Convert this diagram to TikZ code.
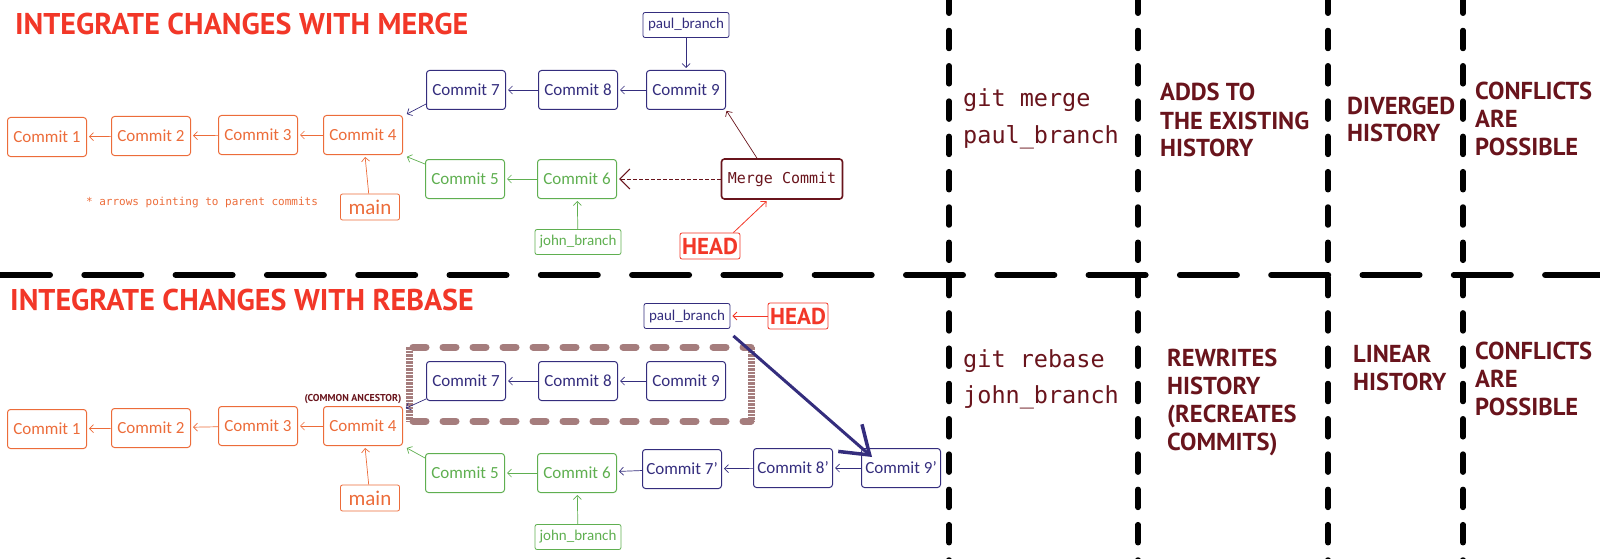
\documentclass[tikz,border=0pt]{standalone}
\usepackage{fontspec}
\setmainfont{Carlito}
\setmonofont{DejaVu Sans Mono}
\newfontfamily\headfont{PT Sans}
\usetikzlibrary{arrows.meta}

\definecolor{corange}{RGB}{236,108,58}
\definecolor{cpurple}{RGB}{52,45,125}
\definecolor{cgreen}{RGB}{95,175,80}
\definecolor{cmaroon}{RGB}{105,20,28}
\definecolor{cred}{RGB}{242,55,40}
\definecolor{cbox}{RGB}{165,125,125}

\tikzset{
  >={Straight Barb[length=4pt,width=8pt]},
  commit/.style={draw, rounded corners=3pt, line width=1pt, minimum width=79pt, minimum height=39pt, inner sep=1pt, font=\fontsize{17}{20}\selectfont},
  ocommit/.style={commit, draw=corange, text=corange},
  pcommit/.style={commit, draw=cpurple, text=cpurple},
  gcommit/.style={commit, draw=cgreen, text=cgreen},
  branch/.style={draw, rounded corners=2pt, line width=0.8pt, minimum width=86pt, minimum height=25pt, inner sep=1pt, font=\fontsize{15}{16}\selectfont},
  pbranch/.style={branch, draw=cpurple, text=cpurple},
  gbranch/.style={branch, draw=cgreen, text=cgreen},
  mainbox/.style={branch, draw=corange, text=corange, minimum width=59pt, minimum height=26pt, font=\fontsize{21}{22}\selectfont},
  headbox/.style={branch, draw=cred, text=cred, minimum width=60pt, minimum height=26pt, font=\headfont\bfseries\fontsize{23}{24}\selectfont},
  mergebox/.style={commit, draw=cmaroon, text=cmaroon, line width=1.6pt, minimum width=121pt, minimum height=40pt, font=\ttfamily\fontsize{15}{16}\selectfont},
  title/.style={anchor=base west, inner sep=0pt, text=cred, font=\headfont\bfseries\fontsize{30}{30}\selectfont},
  colnote/.style={anchor=base west, inner sep=0pt, align=left, text=cmaroon, font=\headfont\bfseries\fontsize{24.5}{28}\selectfont},
  cmdnote/.style={anchor=base west, inner sep=0pt, align=left, text=cmaroon, font=\ttfamily\fontsize{23.5}{36}\selectfont},
  oarr/.style={->, corange, line width=0.7pt, shorten >=2pt},
  parr/.style={->, cpurple, line width=0.7pt, shorten >=2pt},
  garr/.style={->, cgreen, line width=0.7pt, shorten >=2pt},
  rarr/.style={->, cred, line width=0.8pt, shorten >=2pt},
  hsep/.style={line width=6pt, line cap=round, dash pattern=on 57pt off 34.3pt},
  vsep/.style={line width=5.5pt, line cap=round, dash pattern=on 18pt off 17.3pt},
  boxedge/.style={cbox, line width=7pt, line cap=round, dash pattern=on 13pt off 17pt},
  boxside/.style={cbox, line width=7pt, dash pattern=on 2.5pt off 1pt}
}

\begin{document}
\begin{tikzpicture}[x=1pt,y=-1pt]
\useasboundingbox (0,0) rectangle (1600,559);

\draw[hsep] (-7,275) -- (1610,275);
\foreach \xs in {949,1138,1328,1463}
  \draw[vsep] (\xs,-4.8) -- (\xs,565);

\node[title] (t1) at (15,35) {INTEGRATE CHANGES WITH MERGE};
\node[title] (t2) at (10,310) {INTEGRATE CHANGES WITH REBASE};

\node[ocommit] (c1) at (47,137) {Commit 1};
\node[ocommit] (c2) at (151,136) {Commit 2};
\node[ocommit] (c3) at (258,135) {Commit 3};
\node[ocommit] (c4) at (363,135) {Commit 4};
\node[mainbox] (main) at (370,207) {main};
\node[pcommit] (c7) at (466,90) {Commit 7};
\node[pcommit] (c8) at (578,90) {Commit 8};
\node[pcommit] (c9) at (686,90) {Commit 9};
\node[pbranch] (pb) at (686,25) {paul\_branch};
\node[gcommit] (c5) at (465,179) {Commit 5};
\node[gcommit] (c6) at (577,179) {Commit 6};
\node[gbranch] (jb) at (578,242) {john\_branch};
\node[mergebox] (mc) at (782,179) {Merge Commit};
\node[headbox] (hd) at (710,246) {HEAD};
\node[text=corange, font=\ttfamily\fontsize{11}{12}\selectfont] (hint) at (202,203) {* arrows pointing to parent commits};

\draw[oarr] (c2) -- (c1);
\draw[oarr] (c3) -- (c2);
\draw[oarr] (c4) -- (c3);
\draw[oarr] (main) -- (c4);
\draw[parr] ([yshift=6pt]c7.south west) -- ([xshift=2pt]c4.north east);
\draw[parr] (c8) -- (c7);
\draw[parr] (c9) -- (c8);
\draw[parr] (pb) -- (c9);
\draw[garr] ([yshift=-5pt]c5.north west) -- ([xshift=2pt,yshift=-1pt]c4.south east);
\draw[garr] (c6) -- (c5);
\draw[garr] (jb) -- (c6);
\draw[cmaroon, line width=0.8pt, dash pattern=on 4pt off 2pt, -{Straight Barb[length=10pt,width=20pt,line width=1.2pt]}, shorten >=2pt] (mc) -- (c6);
\draw[->, cmaroon, line width=0.7pt, shorten >=1pt] ([xshift=-25pt]mc.north) -- (c9.south east);
\draw[rarr] ([xshift=-7pt]hd.north east) -- ([xshift=-14pt]mc.south);

\node[cmdnote] (m1) at (963,143) {git merge\\paul\_branch};
\node[colnote] (m2) at (1160,157) {ADDS TO\\THE EXISTING\\HISTORY};
\node[colnote] (m3) at (1347,142) {DIVERGED\\HISTORY};
\node[colnote] (m4) at (1475,155) {CONFLICTS\\ARE\\POSSIBLE};

\draw[boxedge] (413,347) -- (751,347);
\draw[boxedge] (413,421) -- (751,421);
\draw[boxside] (409,347) -- (409,421);
\draw[boxside] (751,347) -- (751,421);

\node[ocommit] (rc1) at (47,429) {Commit 1};
\node[ocommit] (rc2) at (151,428) {Commit 2};
\node[ocommit] (rc3) at (258,426) {Commit 3};
\node[ocommit] (rc4) at (363,426) {Commit 4};
\node[mainbox] (rmain) at (370,498) {main};
\node[text=cmaroon, inner sep=0pt, font=\headfont\bfseries\fontsize{10}{11}\selectfont] (anc) at (353,399) {(COMMON ANCESTOR)};
\node[pcommit] (rc7) at (466,381) {Commit 7};
\node[pcommit] (rc8) at (578,381) {Commit 8};
\node[pcommit] (rc9) at (686,381) {Commit 9};
\node[pbranch] (rpb) at (687,316) {paul\_branch};
\node[headbox] (rhd) at (798,316) {HEAD};
\node[gcommit] (rc5) at (465,473) {Commit 5};
\node[gcommit] (rc6) at (577,473) {Commit 6};
\node[gbranch] (rjb) at (578,537) {john\_branch};
\node[pcommit] (rc7p) at (682,469) {Commit 7'};
\node[pcommit] (rc8p) at (793,468) {Commit 8'};
\node[pcommit] (rc9p) at (901,468) {Commit 9'};

\draw[oarr] (rc2) -- (rc1);
\draw[oarr] (rc3) -- (rc2);
\draw[oarr] (rc4) -- (rc3);
\draw[oarr] (rmain) -- (rc4);
\draw[parr] ([yshift=2pt]rc7.south west) -- ([xshift=1pt,yshift=-3pt]rc4.north east);
\draw[parr] (rc8) -- (rc7);
\draw[parr] (rc9) -- (rc8);
\draw[garr] ([yshift=-5pt]rc5.north west) -- ([xshift=2pt,yshift=-1pt]rc4.south east);
\draw[garr] (rc6) -- (rc5);
\draw[garr] (rjb) -- (rc6);
\draw[parr] (rc7p) -- (rc6);
\draw[parr] (rc8p) -- (rc7p);
\draw[parr] (rc9p) -- (rc8p);
\draw[rarr] (rhd) -- (rpb);
\draw[cpurple, line width=3pt, -{Straight Barb[length=26pt,width=36pt,line width=3.5pt]}] ([xshift=3pt,yshift=-7pt]rpb.south east) -- ([xshift=11pt,yshift=-9pt]rc9p.north west);

\node[cmdnote] (r1) at (963,403) {git rebase\\john\_branch};
\node[colnote] (r2) at (1167,450) {REWRITES\\HISTORY\\(RECREATES\\COMMITS)};
\node[colnote] (r3) at (1353,390) {LINEAR\\HISTORY};
\node[colnote] (r4) at (1475,415) {CONFLICTS\\ARE\\POSSIBLE};
\end{tikzpicture}
\end{document}
